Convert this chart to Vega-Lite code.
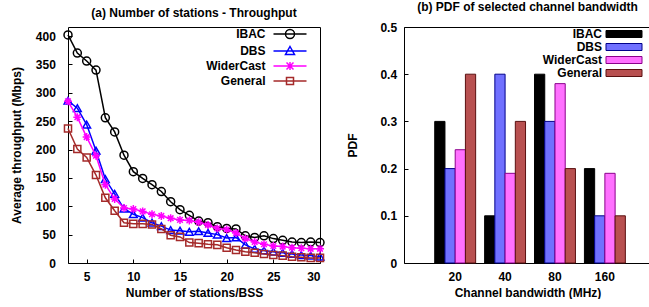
{
  "$schema": "https://vega.github.io/schema/vega-lite/v6.json",
  "background": "white",
  "padding": {"left": 9, "top": 0, "right": 0, "bottom": 0},
  "spacing": 9,
  "resolve": {
    "scale": {"color": "independent", "shape": "independent", "stroke": "independent", "x": "independent", "y": "independent"},
    "legend": {"color": "independent", "shape": "independent", "stroke": "independent"}
  },
  "config": {
    "font": "Liberation Sans",
    "view": {"stroke": "black", "strokeWidth": 1},
    "axis": {
      "labelFont": "Liberation Sans", "labelFontWeight": "bold", "labelFontSize": 12, "labelColor": "black",
      "titleFont": "Liberation Sans", "titleFontWeight": "bold", "titleFontSize": 12, "titleColor": "black",
      "grid": false, "domain": false, "tickColor": "black", "tickSize": -4, "tickWidth": 1
    },
    "title": {"font": "Liberation Sans", "fontWeight": "bold", "fontSize": 12, "color": "black", "offset": 7},
    "legend": {"labelFont": "Liberation Sans", "labelFontWeight": "bold", "labelFontSize": 12, "labelColor": "black"}
  },
  "datasets": {
    "thr": [
      {"x":3,"s":"IBAC","v":402},{"x":4,"s":"IBAC","v":370},{"x":5,"s":"IBAC","v":356},{"x":6,"s":"IBAC","v":340},{"x":7,"s":"IBAC","v":256},{"x":8,"s":"IBAC","v":231},{"x":9,"s":"IBAC","v":190},{"x":10,"s":"IBAC","v":161},{"x":11,"s":"IBAC","v":149},{"x":12,"s":"IBAC","v":138},{"x":13,"s":"IBAC","v":126},{"x":14,"s":"IBAC","v":108},{"x":15,"s":"IBAC","v":94},{"x":16,"s":"IBAC","v":84},{"x":17,"s":"IBAC","v":74},{"x":18,"s":"IBAC","v":71},{"x":19,"s":"IBAC","v":64},{"x":20,"s":"IBAC","v":61},{"x":21,"s":"IBAC","v":60},{"x":22,"s":"IBAC","v":48},{"x":23,"s":"IBAC","v":45},{"x":24,"s":"IBAC","v":48},{"x":25,"s":"IBAC","v":43},{"x":26,"s":"IBAC","v":40},{"x":27,"s":"IBAC","v":37},{"x":28,"s":"IBAC","v":36},{"x":29,"s":"IBAC","v":37},{"x":30,"s":"IBAC","v":36},
      {"x":3,"s":"DBS","v":286},{"x":4,"s":"DBS","v":273},{"x":5,"s":"DBS","v":244},{"x":6,"s":"DBS","v":198},{"x":7,"s":"DBS","v":148},{"x":8,"s":"DBS","v":122},{"x":9,"s":"DBS","v":96},{"x":10,"s":"DBS","v":86},{"x":11,"s":"DBS","v":80},{"x":12,"s":"DBS","v":71},{"x":13,"s":"DBS","v":65},{"x":14,"s":"DBS","v":58},{"x":15,"s":"DBS","v":57},{"x":16,"s":"DBS","v":55},{"x":17,"s":"DBS","v":56},{"x":18,"s":"DBS","v":53},{"x":19,"s":"DBS","v":50},{"x":20,"s":"DBS","v":44},{"x":21,"s":"DBS","v":45},{"x":22,"s":"DBS","v":32},{"x":23,"s":"DBS","v":25},{"x":24,"s":"DBS","v":22},{"x":25,"s":"DBS","v":20},{"x":26,"s":"DBS","v":18},{"x":27,"s":"DBS","v":16},{"x":28,"s":"DBS","v":14},{"x":29,"s":"DBS","v":13},{"x":30,"s":"DBS","v":11},
      {"x":3,"s":"WiderCast","v":285},{"x":4,"s":"WiderCast","v":257},{"x":5,"s":"WiderCast","v":222},{"x":6,"s":"WiderCast","v":189},{"x":7,"s":"WiderCast","v":138},{"x":8,"s":"WiderCast","v":113},{"x":9,"s":"WiderCast","v":97},{"x":10,"s":"WiderCast","v":95},{"x":11,"s":"WiderCast","v":91},{"x":12,"s":"WiderCast","v":86},{"x":13,"s":"WiderCast","v":83},{"x":14,"s":"WiderCast","v":79},{"x":15,"s":"WiderCast","v":76},{"x":16,"s":"WiderCast","v":75},{"x":17,"s":"WiderCast","v":72},{"x":18,"s":"WiderCast","v":67},{"x":19,"s":"WiderCast","v":61},{"x":20,"s":"WiderCast","v":59},{"x":21,"s":"WiderCast","v":53},{"x":22,"s":"WiderCast","v":43},{"x":23,"s":"WiderCast","v":37},{"x":24,"s":"WiderCast","v":33},{"x":25,"s":"WiderCast","v":30},{"x":26,"s":"WiderCast","v":29},{"x":27,"s":"WiderCast","v":27},{"x":28,"s":"WiderCast","v":26},{"x":29,"s":"WiderCast","v":25},{"x":30,"s":"WiderCast","v":25},
      {"x":3,"s":"General","v":237},{"x":4,"s":"General","v":201},{"x":5,"s":"General","v":186},{"x":6,"s":"General","v":155},{"x":7,"s":"General","v":115},{"x":8,"s":"General","v":92},{"x":9,"s":"General","v":71},{"x":10,"s":"General","v":69},{"x":11,"s":"General","v":69},{"x":12,"s":"General","v":68},{"x":13,"s":"General","v":60},{"x":14,"s":"General","v":49},{"x":15,"s":"General","v":46},{"x":16,"s":"General","v":36},{"x":17,"s":"General","v":35},{"x":18,"s":"General","v":33},{"x":19,"s":"General","v":32},{"x":20,"s":"General","v":27},{"x":21,"s":"General","v":23},{"x":22,"s":"General","v":20},{"x":23,"s":"General","v":18},{"x":24,"s":"General","v":16},{"x":25,"s":"General","v":14},{"x":26,"s":"General","v":13},{"x":27,"s":"General","v":11},{"x":28,"s":"General","v":10},{"x":29,"s":"General","v":9},{"x":30,"s":"General","v":9}
    ],
    "pdf": [
      {"bw":"20","s":"IBAC","p":0.3},{"bw":"20","s":"DBS","p":0.2},{"bw":"20","s":"WiderCast","p":0.24},{"bw":"20","s":"General","p":0.4},
      {"bw":"40","s":"IBAC","p":0.1},{"bw":"40","s":"DBS","p":0.4},{"bw":"40","s":"WiderCast","p":0.19},{"bw":"40","s":"General","p":0.3},
      {"bw":"80","s":"IBAC","p":0.4},{"bw":"80","s":"DBS","p":0.3},{"bw":"80","s":"WiderCast","p":0.38},{"bw":"80","s":"General","p":0.2},
      {"bw":"160","s":"IBAC","p":0.2},{"bw":"160","s":"DBS","p":0.1},{"bw":"160","s":"WiderCast","p":0.19},{"bw":"160","s":"General","p":0.1}
    ]
  },
  "hconcat": [
    {
      "width": 252, "height": 236,
      "title": {"text": "(a) Number of stations - Throughput"},
      "data": {"name": "thr"},
      "encoding": {
        "x": {"field": "x", "type": "quantitative", "scale": {"domain": [3, 30], "nice": false, "zero": false},
              "axis": {"values": [5, 10, 15, 20, 25, 30], "title": "Number of stations/BSS", "labelPadding": 12, "titlePadding": 5}},
        "y": {"field": "v", "type": "quantitative", "scale": {"domain": [0, 416], "nice": false},
              "axis": {"values": [0, 50, 100, 150, 200, 250, 300, 350, 400], "title": "Average throughput (Mbps)", "labelPadding": 16.6, "titlePadding": 12}},
        "color": {"field": "s", "type": "nominal",
                  "scale": {"domain": ["IBAC", "DBS", "WiderCast", "General"], "range": ["#000000", "#0000ff", "#ff00ff", "#a52a2a"]}}
      },
      "layer": [
        {"transform": [{"filter": "datum.s === 'IBAC'"}],
         "mark": {"type": "line", "strokeWidth": 1.5, "point": {"shape": "circle", "filled": false, "size": 64, "strokeWidth": 1.5}}},
        {"transform": [{"filter": "datum.s === 'DBS'"}],
         "mark": {"type": "line", "strokeWidth": 1.5, "point": {"shape": "triangle-up", "filled": false, "size": 60, "strokeWidth": 1.5}}},
        {"transform": [{"filter": "datum.s === 'WiderCast'"}],
         "mark": {"type": "line", "strokeWidth": 1.5, "point": {"shape": "M-1,0L1,0M0,-1L0,1M-0.7,-0.7L0.7,0.7M-0.7,0.7L0.7,-0.7", "filled": false, "size": 64, "strokeWidth": 1.5}}},
        {"transform": [{"filter": "datum.s === 'General'"}],
         "mark": {"type": "line", "strokeWidth": 1.5, "point": {"shape": "square", "filled": false, "size": 50, "strokeWidth": 1.5}}},
        {"mark": {"type": "point", "filled": false, "opacity": 0, "size": 100},
         "encoding": {
           "color": {"field": "s", "type": "nominal",
                     "legend": {"title": null, "orient": "none", "legendX": 216, "legendY": 1, "padding": 0, "labelAlign": "right", "labelOffset": -30.5,
                                "symbolSize": 100, "symbolStrokeWidth": 1.5, "symbolOpacity": 1, "rowPadding": 1}},
           "shape": {"field": "s", "type": "nominal",
                     "scale": {"domain": ["IBAC", "DBS", "WiderCast", "General"],
                               "range": [
                                 "M-3.3,0L3.3,0M0.9,0A0.9,0.9,0,1,1,-0.9,0A0.9,0.9,0,1,1,0.9,0",
                                 "M-3.3,0L3.3,0M0,-0.9L0.9,0.7L-0.9,0.7Z",
                                 "M-3.3,0L3.3,0M0,-0.8L0,0.8M-0.7,-0.7L0.7,0.7M-0.7,0.7L0.7,-0.7",
                                 "M-3.3,0L3.3,0M-0.7,-0.7L0.7,-0.7L0.7,0.7L-0.7,0.7Z"
                               ]},
                     "legend": {"title": null, "orient": "none", "legendX": 216, "legendY": 1, "padding": 0, "labelAlign": "right", "labelOffset": -30.5,
                                "symbolSize": 100, "symbolStrokeWidth": 1.5, "symbolOpacity": 1, "rowPadding": 1}}
         }}
      ]
    },
    {
      "width": 247, "height": 236,
      "title": {"text": "(b) PDF of selected channel bandwidth"},
      "data": {"name": "pdf"},
      "mark": {"type": "bar", "strokeWidth": 1},
      "encoding": {
        "x": {"field": "bw", "type": "ordinal", "sort": ["20", "40", "80", "160"],
              "scale": {"paddingInner": 0.18, "paddingOuter": 0.565, "align": 0.545},
              "axis": {"title": "Channel bandwidth (MHz)", "labelAngle": 0, "labelPadding": 12, "titlePadding": 5}},
        "xOffset": {"field": "s", "type": "nominal", "sort": ["IBAC", "DBS", "WiderCast", "General"],
                    "scale": {"paddingInner": 0, "paddingOuter": 0}},
        "y": {"field": "p", "type": "quantitative", "scale": {"domain": [0, 0.5], "nice": false},
              "axis": {"values": [0, 0.1, 0.2, 0.3, 0.4, 0.5], "format": "~g", "title": "PDF", "labelPadding": 11.4, "titlePadding": 20}},
        "color": {"field": "s", "type": "nominal",
                  "scale": {"domain": ["IBAC", "DBS", "WiderCast", "General"], "range": ["#000000", "#7070ff", "#ff70ff", "#b85050"]},
                  "legend": {"title": null, "orient": "none", "legendX": 214, "legendY": 1, "padding": 0, "labelAlign": "right", "labelOffset": -28,
                             "symbolType": "M-3.6,-0.7L3.6,-0.7L3.6,0.7L-3.6,0.7Z", "symbolSize": 100, "symbolStrokeColor": "black", "symbolStrokeWidth": 1, "rowPadding": 1}},
        "stroke": {"field": "s", "type": "nominal",
                   "scale": {"domain": ["IBAC", "DBS", "WiderCast", "General"], "range": ["#000000", "#00008b", "#8b008b", "#5a1010"]},
                   "legend": null}
      }
    }
  ]
}
